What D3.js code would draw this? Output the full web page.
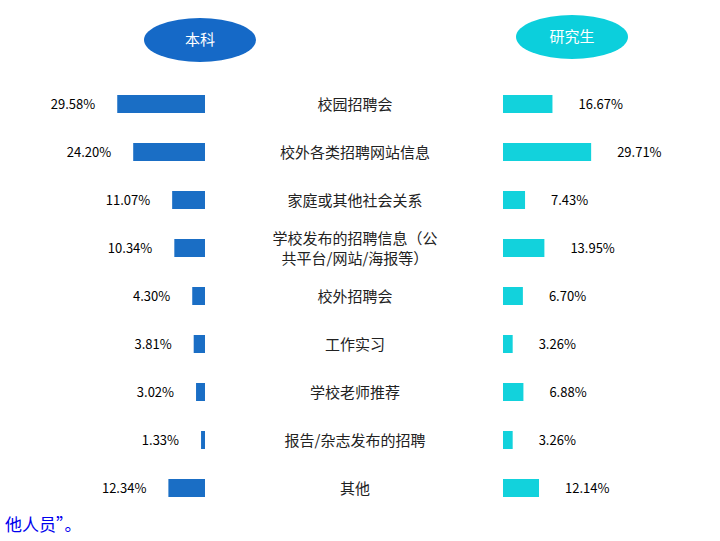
<!DOCTYPE html><html><head><meta charset="utf-8"><script src="https://d3js.org/d3.v7.min.js"></script>
<style>body{margin:0;background:#fff}</style></head><body><svg id="c" width="720" height="541"></svg>
<script>
const categories=["校园招聘会","校外各类招聘网站信息","家庭或其他社会关系","学校发布的招聘信息（公|共平台/网站/海报等）","校外招聘会","工作实习","学校老师推荐","报告/杂志发布的招聘","其他"];
const undergrad=[29.58,24.20,11.07,10.34,4.30,3.81,3.02,1.33,12.34];
const graduate=[16.67,29.71,7.43,13.95,6.70,3.26,6.88,3.26,12.14];
const groups=["本科","研究生"];
const svg=d3.select("#c");
const font="'Noto Sans CJK SC','Noto Sans',sans-serif";
const w=d3.scaleLinear().domain([0,30]).range([0,89]);
const L=205,R=503,bh=18;
categories.forEach((c,i)=>{
  const cy=80+48*(i+0.5);
  svg.append("rect").attr("x",L-w(undergrad[i])).attr("y",cy-bh/2).attr("width",w(undergrad[i])).attr("height",bh).attr("fill","#1A6EC5");
  svg.append("rect").attr("x",R).attr("y",cy-bh/2).attr("width",w(graduate[i])).attr("height",bh).attr("fill","#12D2DC");
  svg.append("text").attr("x",L-w(undergrad[i])-22).attr("y",cy+5).attr("text-anchor","end").attr("font-family",font).attr("font-size",13).text(undergrad[i].toFixed(2)+"%");
  svg.append("text").attr("x",R+w(graduate[i])+26).attr("y",cy+5).attr("font-family",font).attr("font-size",13).text(graduate[i].toFixed(2)+"%");
  const lines=c.split("|");
  lines.forEach((t,j)=>svg.append("text").attr("x",355).attr("y",cy+6+(j-(lines.length-1)/2)*20).attr("text-anchor","middle").attr("font-family",font).attr("font-size",15).attr("fill","#222").text(t));
});
[[200,40,"#1569C7"],[572,37,"#0CCFDC"]].forEach((e,i)=>{
  svg.append("ellipse").attr("cx",e[0]).attr("cy",e[1]).attr("rx",56).attr("ry",22).attr("fill",e[2]);
  svg.append("text").attr("x",e[0]).attr("y",e[1]+5).attr("text-anchor","middle").attr("fill","#fff").attr("font-family",font).attr("font-size",15).text(groups[i]);
});
svg.append("text").attr("x",5).attr("y",531).attr("fill","#0000EE").attr("font-family",font).attr("font-size",17).text("他人员”。");
</script></body></html>
